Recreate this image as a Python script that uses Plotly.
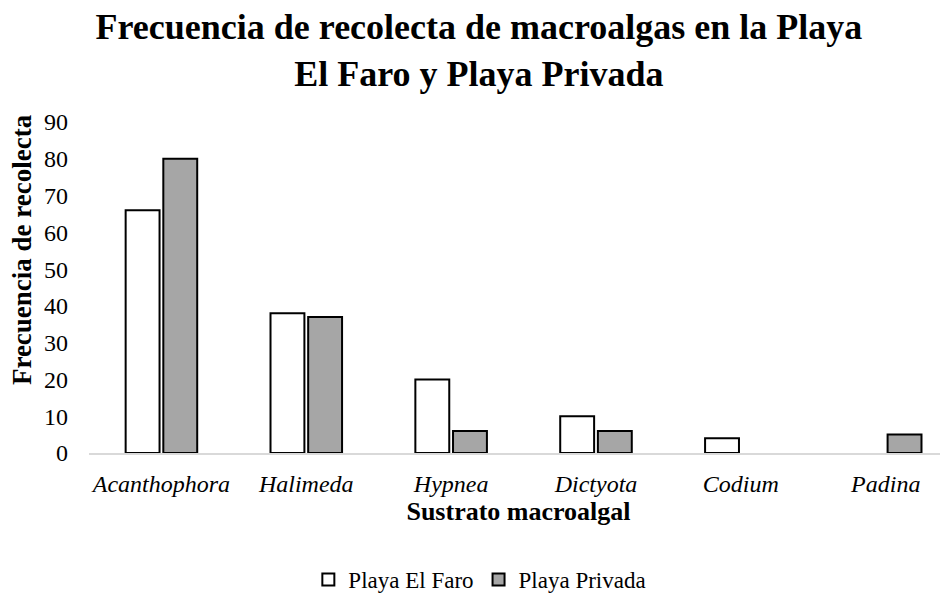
import plotly.graph_objects as go

categories = ["Acanthophora", "Halimeda", "Hypnea", "Dictyota", "Codium", "Padina"]
el_faro = [66, 38, 20, 10, 4, 0]
privada = [80, 37, 6, 6, 0, 5]
series_names = ["Playa El Faro", "Playa Privada"]
y_ticks = [0, 10, 20, 30, 40, 50, 60, 70, 80, 90]

FONT = "Liberation Serif, Times New Roman, serif"


def outline_widths(values):
    # Zero-height bars are drawn without an outline, as in the reference
    return [2 if v else 0 for v in values]


fig = go.Figure()
fig.add_trace(go.Bar(x=categories, y=el_faro, name=series_names[0],
                     marker=dict(color="white",
                                 line=dict(color="black", width=outline_widths(el_faro)))))
fig.add_trace(go.Bar(x=categories, y=privada, name=series_names[1],
                     marker=dict(color="#a6a6a6",
                                 line=dict(color="black", width=outline_widths(privada)))))

fig.update_layout(
    width=940, height=593,
    margin=dict(l=81, r=0, t=114, b=148),
    paper_bgcolor="white", plot_bgcolor="white",
    font=dict(family=FONT, color="black"),
    title=dict(text="<b>Frecuencia de recolecta de macroalgas en la Playa<br>El Faro y Playa Privada</b>",
               x=0.501, xanchor="center", y=0.947, yanchor="top",
               font=dict(family=FONT, size=36, color="black")),
    barmode="group", bargap=0.48, bargroupgap=0.1,
    showlegend=True,
    legend=dict(orientation="h", x=0.455, xanchor="center", y=-0.384, yanchor="middle",
                font=dict(family=FONT, size=23, color="black")),
    annotations=[dict(text="<b>Frecuencia de recolecta</b>", textangle=-90,
                      xref="paper", yref="paper", x=-0.078, y=0.616,
                      xanchor="center", yanchor="middle", showarrow=False,
                      font=dict(family=FONT, size=27, color="black"))],
)
fig.update_xaxes(
    type="category", range=[-0.5, 5.43],
    showline=True, linecolor="#d9d9d9", linewidth=2,
    showgrid=False, ticks="", ticklabelstandoff=8,
    tickfont=dict(family=FONT, size=24, style="italic", color="black"),
    title=dict(text="<b>Sustrato macroalgal</b>", standoff=4,
               font=dict(family=FONT, size=26, color="black")),
)
fig.update_yaxes(
    range=[0, 90], tickvals=y_ticks, showline=False, showgrid=False, zeroline=False,
    ticks="", ticklabelstandoff=20,
    tickfont=dict(family=FONT, size=24, color="black"),
)

fig.write_html("out.html")
